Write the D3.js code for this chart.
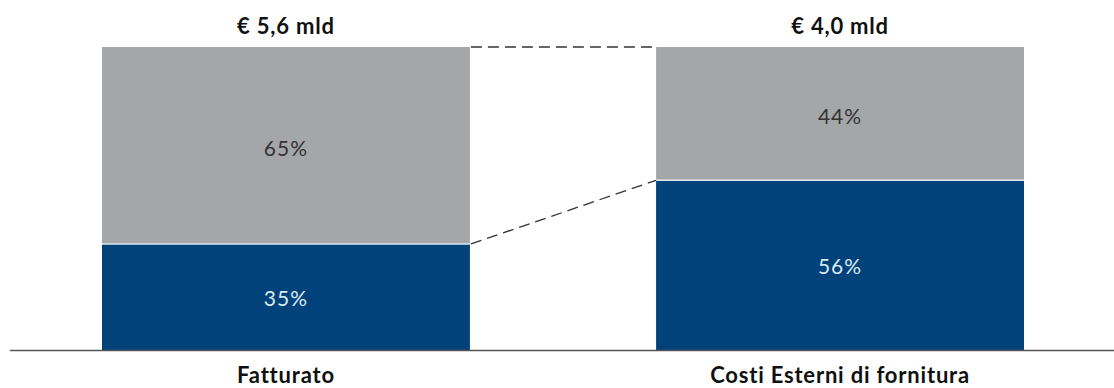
<!DOCTYPE html>
<html>
<head>
<meta charset="utf-8">
<script src="https://cdn.jsdelivr.net/npm/d3@7"></script>
<style>
  html, body { margin: 0; padding: 0; background: #fff; }
  svg { display: block; }
  text { font-family: Lato, "Open Sans", sans-serif; }
</style>
</head>
<body>
<svg id="chart" width="1114" height="388"></svg>
<script>
const categories = ["Fatturato", "Costi Esterni di fornitura"];
const totals = ["€ 5,6 mld", "€ 4,0 mld"];
const bottomShare = [35, 56];   // dark blue segment
const topShare = [65, 44];      // grey segment

const svg = d3.select("#chart");
const W = 1114;

const x = d3.scaleBand().domain(categories).range([102, 1024]).paddingInner(0.336).paddingOuter(0);
const y = d3.scaleLinear().domain([0, 100]).range([350, 47]);

const data = categories.map((c, i) => ({ c, total: totals[i], b: bottomShare[i], t: topShare[i] }));

// grey top segments
svg.selectAll("rect.top").data(data).enter().append("rect")
  .attr("x", d => x(d.c)).attr("width", x.bandwidth())
  .attr("y", d => y(d.b + d.t)).attr("height", d => y(d.b) - y(d.b + d.t))
  .attr("fill", "#a5a6a8");

// blue bottom segments
svg.selectAll("rect.bot").data(data).enter().append("rect")
  .attr("x", d => x(d.c)).attr("width", x.bandwidth())
  .attr("y", d => y(d.b)).attr("height", d => y(0) - y(d.b))
  .attr("fill", "#02427a");

// thin light separator
svg.selectAll("line.sep").data(data).enter().append("line")
  .attr("x1", d => x(d.c)).attr("x2", d => x(d.c) + x.bandwidth())
  .attr("y1", d => y(d.b)).attr("y2", d => y(d.b))
  .attr("stroke", "#dfeaf3").attr("stroke-width", 1.5);

// dashed connectors
const a = data[0], b = data[1];
const xr = x(a.c) + x.bandwidth(), xl = x(b.c);
svg.append("line")
  .attr("x1", xr + 1).attr("x2", xl).attr("y1", y(a.b + a.t)).attr("y2", y(b.b + b.t))
  .attr("stroke", "#333").attr("stroke-width", 1.3).attr("stroke-dasharray", "11,6");
svg.append("line")
  .attr("x1", xr + 1).attr("x2", xl).attr("y1", y(a.b)).attr("y2", y(b.b))
  .attr("stroke", "#333").attr("stroke-width", 1.3).attr("stroke-dasharray", "11,6");

// baseline
svg.append("line")
  .attr("x1", 10).attr("x2", W).attr("y1", 350.5).attr("y2", 350.5)
  .attr("stroke", "#555").attr("stroke-width", 1.5);

// segment labels
svg.selectAll("text.tl").data(data).enter().append("text")
  .attr("x", d => x(d.c) + x.bandwidth() / 2)
  .attr("y", d => (y(d.b + d.t) + y(d.b)) / 2 + 5)
  .attr("text-anchor", "middle").attr("dominant-baseline", "middle")
  .attr("font-size", 21).attr("letter-spacing", 1).attr("fill", "#333")
  .text(d => d.t + "%");

svg.selectAll("text.bl").data(data).enter().append("text")
  .attr("x", d => x(d.c) + x.bandwidth() / 2)
  .attr("y", d => (y(d.b) + y(0)) / 2 + 4)
  .attr("text-anchor", "middle").attr("dominant-baseline", "middle")
  .attr("font-size", 21).attr("letter-spacing", 1).attr("fill", "#dbe9f5")
  .text(d => d.b + "%");

// totals
svg.selectAll("text.tot").data(data).enter().append("text")
  .attr("x", d => x(d.c) + x.bandwidth() / 2)
  .attr("y", 28)
  .attr("text-anchor", "middle").attr("dominant-baseline", "middle")
  .attr("font-size", 22).attr("letter-spacing", 0.8).attr("font-weight", "bold").attr("fill", "#111")
  .text(d => d.total);

// category labels
svg.selectAll("text.cat").data(data).enter().append("text")
  .attr("x", d => x(d.c) + x.bandwidth() / 2)
  .attr("y", 377)
  .attr("text-anchor", "middle").attr("dominant-baseline", "middle")
  .attr("font-size", 22).attr("letter-spacing", 0.8).attr("font-weight", "bold").attr("fill", "#111")
  .text(d => d.c);
</script>
</body>
</html>
